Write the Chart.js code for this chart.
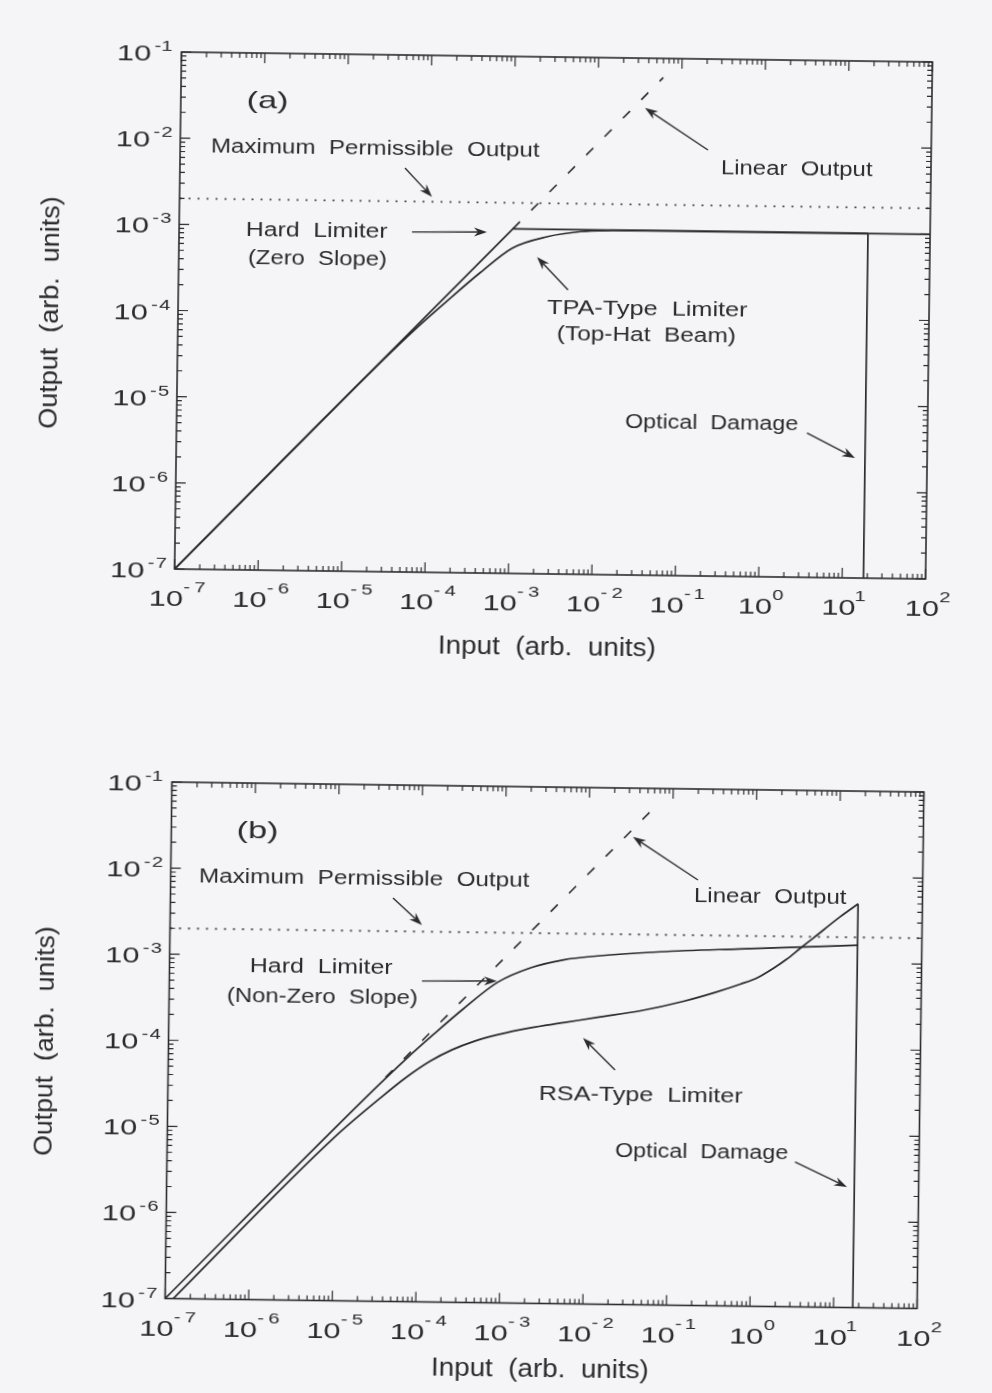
<!DOCTYPE html>
<html>
<head>
<meta charset="utf-8">
<script src="https://cdn.jsdelivr.net/npm/chart.js@4.4.1/dist/chart.umd.min.js"></script>
<style>
html,body{margin:0;padding:0;background:#f5f5f7;width:992px;height:1393px;overflow:hidden}
canvas{position:absolute;left:0}
#chartA{top:0;transform-origin:553.5px 316px;transform:rotate(0.76deg)}
#chartB{top:690px;transform-origin:544px 355px;transform:rotate(0.76deg)}
</style>
</head>
<body>
<canvas id="chartA" width="992" height="690"></canvas>
<canvas id="chartB" width="992" height="703"></canvas>
<script>
// axis decades (exponents) and minor multipliers
const xDecades = [-7,-6,-5,-4,-3,-2,-1,0,1,2];
const yDecades = [-7,-6,-5,-4,-3,-2,-1];
const minorSteps = [2,3,4,5,6,7,8,9];

const maxPermIn = [1e-7, 100];
const maxPermOut = [2e-3, 2e-3];

// panel (a)
const linearA_in  = [1e-3, 0.06];
const linearA_out = [1e-3, 0.06];
const hardA_in  = [1e-7, 1e-3, 100];
const hardA_out = [1e-7, 1e-3, 1e-3];
const tpaA_in  = [1e-7, 3e-5, 7e-5, 1.67e-4, 4.1e-4, 1e-3, 2.6e-3, 6.5e-3, 1.6e-2, 4e-2, 18];
const tpaA_out = [1e-7, 2.95e-5, 6.6e-5, 1.42e-4, 3.05e-4, 6.0e-4, 8.2e-4, 9.5e-4, 9.9e-4, 1e-3, 1e-3];
const damageA_in  = [18, 18];
const damageA_out = [1e-3, 1e-7];

// panel (b)
const linearB_in  = [4e-5, 0.058];
const linearB_out = [4e-5, 0.058];
const hardB_in  = [1e-7, 3e-5, 7e-5, 1.5e-4, 3.3e-4, 8.5e-4, 2.1e-3, 5.2e-3, 1.32e-2, 7.5e-2, 0.66, 17];
const hardB_out = [1e-7, 2.95e-5, 6.6e-5, 1.3e-4, 2.55e-4, 5.3e-4, 7.9e-4, 9.9e-4, 1.11e-3, 1.27e-3, 1.41e-3, 1.62e-3];
const rsaB_in  = [1.25e-7, 1e-5, 3.5e-5, 7e-5, 1.37e-4, 2.5e-4, 4.5e-4, 8.6e-4, 2.1e-3, 5.3e-3, 1.35e-2, 4.4e-2, 0.143, 0.35, 0.685, 1.1, 1.69, 2.4, 3.5, 5.0, 10.5, 17];
const rsaB_out = [1e-7, 7.9e-6, 2.3e-5, 4.0e-5, 6.3e-5, 8.6e-5, 1.08e-4, 1.3e-4, 1.58e-4, 1.84e-4, 2.15e-4, 2.6e-4, 3.4e-4, 4.4e-4, 5.5e-4, 6.6e-4, 8.5e-4, 1.08e-3, 1.46e-3, 1.93e-3, 3.47e-3, 4.9e-3];
const damageB_in  = [17, 17];
const damageB_out = [4.9e-3, 1e-7];

const ink = '#2b2b2b';
const FONT = '"Liberation Sans", Arial, Helvetica, sans-serif';

// text and arrows, positions as seen on the (slightly tilted) page
const notesA = {
  top: 0, cx: 553.5, cy: 316, tilt: 0.76,
  texts: [
    {t:'(a)', x0:248, x1:287, y:108, size:24},
    {t:'Maximum  Permissible  Output', x0:212, x1:540, y:155, size:20},
    {t:'Hard  Limiter', x0:247, x1:388, y:237, size:20},
    {t:'(Zero  Slope)', x0:249, x1:386, y:265, size:20},
    {t:'Linear  Output', x0:722, x1:873, y:175, size:20},
    {t:'TPA-Type  Limiter', x0:547, x1:748, y:315, size:20},
    {t:'(Top-Hat  Beam)', x0:558, x1:735, y:341, size:20},
    {t:'Optical  Damage', x0:625, x1:798, y:429, size:20},
    {t:'Input  (arb.  units)', x0:440, x1:655, y:655, size:26},
    {t:'Output  (arb.  units)', x0:197, x1:428, y:58, size:26, vertical:true}
  ],
  arrows: [[405,168,432,197],[412,232,487,232],[708,150,645,108],[568,290,537,257],[807,433,855,458]]
};
const notesB = {
  top: 690, cx: 544, cy: 1045, tilt: 0.76,
  texts: [
    {t:'(b)', x0:238, x1:277, y:838, size:24},
    {t:'Maximum  Permissible  Output', x0:200, x1:530, y:885, size:20},
    {t:'Hard  Limiter', x0:251, x1:393, y:973, size:20},
    {t:'(Non-Zero  Slope)', x0:228, x1:417, y:1003, size:20},
    {t:'Linear  Output', x0:695, x1:847, y:903, size:20},
    {t:'RSA-Type  Limiter', x0:540, x1:743, y:1101, size:20},
    {t:'Optical  Damage', x0:615, x1:788, y:1158, size:20},
    {t:'Input  (arb.  units)', x0:433, x1:648, y:1377, size:26},
    {t:'Output  (arb.  units)', x0:927, x1:1155, y:53, size:26, vertical:true}
  ],
  arrows: [[393,898,422,925],[422,981,497,981],[698,880,633,837],[615,1070,583,1038],[795,1162,847,1187]]
};

function pts(xs, ys){ return xs.map((x,i)=>({x, y:ys[i]})); }
function series(xs, ys, extra){
  return Object.assign({data:pts(xs,ys), borderColor:ink, borderWidth:1.7, pointRadius:0, fill:false, tension:0}, extra||{});
}
function logTicks(decs){
  const out=[];
  decs.forEach((d,i)=>{
    out.push({value:Math.pow(10,d)});
    if(i<decs.length-1) minorSteps.forEach(m=>out.push({value:Number((m*Math.pow(10,d)).toPrecision(3))}));
  });
  return out;
}
const isDecade = v => Math.abs(Math.log10(v)-Math.round(Math.log10(v)))<1e-6;

function unrot(px, py, n){
  const t=n.tilt*Math.PI/180, c=Math.cos(t), s=Math.sin(t);
  const dx=px-n.cx, dy=py-n.cy;
  return [n.cx+dx*c+dy*s, n.cy-dx*s+dy*c-n.top];
}
function fitText(ctx, str, cx, base, width, size, angle){
  ctx.save();
  ctx.font = size+'px '+FONT;
  ctx.textAlign='left'; ctx.textBaseline='alphabetic';
  const m = ctx.measureText(str);
  const vis = m.actualBoundingBoxLeft + m.actualBoundingBoxRight;
  ctx.translate(cx, base);
  if(angle) ctx.rotate(angle);
  ctx.scale(width/vis, 1);
  ctx.fillText(str, -(m.actualBoundingBoxRight - m.actualBoundingBoxLeft)/2, 0);
  ctx.restore();
}
function scaledText(ctx, str, left, base, size, sx){
  ctx.save();
  ctx.font = size+'px '+FONT;
  ctx.textAlign='left'; ctx.textBaseline='alphabetic';
  const m = ctx.measureText(str);
  ctx.translate(left + m.actualBoundingBoxLeft*sx, base);
  ctx.scale(sx,1);
  ctx.fillText(str,0,0);
  ctx.restore();
}
function arrow(ctx, x0, y0, x1, y1){
  const a=Math.atan2(y1-y0,x1-x0), c=Math.cos(a), s=Math.sin(a), L=13, W=4.5, N=9;
  ctx.beginPath(); ctx.moveTo(x0,y0); ctx.lineTo(x1-c*N, y1-s*N); ctx.stroke();
  ctx.beginPath();
  ctx.moveTo(x1,y1);
  ctx.lineTo(x1-L*c+W*s, y1-L*s-W*c);
  ctx.lineTo(x1-N*c, y1-N*s);
  ctx.lineTo(x1-L*c-W*s, y1-L*s+W*c);
  ctx.closePath(); ctx.fill();
}

const framePlugin = {
  id:'frame',
  afterDatasetsDraw(chart, args, o){
    const {ctx, chartArea:a, scales:{x, y}} = chart;
    ctx.save();
    ctx.strokeStyle=ink; ctx.fillStyle=ink;
    ctx.lineWidth=1.6;
    ctx.strokeRect(a.left, a.top, a.right-a.left, a.bottom-a.top);
    // inward tick marks on all four sides
    ctx.lineWidth=1.2;
    ctx.beginPath();
    x.ticks.forEach(t=>{
      const px=x.getPixelForValue(t.value), len=isDecade(t.value)?10:5;
      ctx.moveTo(px,a.bottom); ctx.lineTo(px,a.bottom-len);
      ctx.moveTo(px,a.top); ctx.lineTo(px,a.top+len);
    });
    y.ticks.forEach(t=>{
      const py=y.getPixelForValue(t.value), len=isDecade(t.value)?10:5;
      ctx.moveTo(a.left,py); ctx.lineTo(a.left+len,py);
      ctx.moveTo(a.right,py); ctx.lineTo(a.right-len,py);
    });
    ctx.stroke();
    // tick labels 10^n
    xDecades.forEach(d=>{
      const px=x.getPixelForValue(Math.pow(10,d));
      if(d<0){
        scaledText(ctx,'10',px-24,a.bottom+37,22,1.4);
        scaledText(ctx,'-',px+9,a.bottom+23,15,1.35);
        scaledText(ctx,String(-d),px+20,a.bottom+23,15,1.35);
      } else {
        scaledText(ctx,'10',px-19,a.bottom+37,22,1.4);
        scaledText(ctx,String(d),px+14,a.bottom+23,15,1.35);
      }
    });
    yDecades.forEach(d=>{
      const py=y.getPixelForValue(Math.pow(10,d));
      scaledText(ctx,'10',a.left-63,py+9,22,1.4);
      scaledText(ctx,'-',a.left-27,py-1,15,1.35);
      scaledText(ctx,String(-d),a.left-19,py-1,15,1.35);
    });
    // annotations
    o.texts.forEach(tx=>{
      if(tx.vertical){
        const p=unrot(tx.y,(tx.x0+tx.x1)/2,o);
        fitText(ctx,tx.t,p[0],p[1],tx.x1-tx.x0,tx.size,-Math.PI/2);
      } else {
        const p=unrot((tx.x0+tx.x1)/2,tx.y,o);
        fitText(ctx,tx.t,p[0],p[1],tx.x1-tx.x0,tx.size,0);
      }
    });
    ctx.lineWidth=1.4;
    o.arrows.forEach(ar=>{
      const p0=unrot(ar[0],ar[1],o), p1=unrot(ar[2],ar[3],o);
      arrow(ctx,p0[0],p0[1],p1[0],p1[1]);
    });
    ctx.restore();
  }
};

function makeChart(id, datasets, pad, notes){
  return new Chart(document.getElementById(id), {
    type:'line',
    data:{datasets},
    options:{
      responsive:false, animation:false, events:[],
      layout:{padding:pad},
      plugins:{legend:{display:false}, tooltip:{enabled:false}, frame:notes},
      scales:{
        x:{type:'logarithmic', min:1e-7, max:100,
           grid:{display:false, drawTicks:false}, border:{display:false}, ticks:{display:false},
           afterBuildTicks:s=>{ s.ticks=logTicks(xDecades); }},
        y:{type:'logarithmic', min:1e-7, max:0.1,
           grid:{display:false, drawTicks:false}, border:{display:false}, ticks:{display:false},
           afterBuildTicks:s=>{ s.ticks=logTicks(yDecades); }}
      }
    },
    plugins:[framePlugin]
  });
}

const dotted = {borderDash:[2,7], borderWidth:1.8, borderColor:'#505050'};
const dashed = {borderDash:[10,16], borderWidth:1.6};
const smooth = {cubicInterpolationMode:'monotone'};

makeChart('chartA', [
  series(maxPermIn, maxPermOut, dotted),
  series(linearA_in, linearA_out, dashed),
  series(hardA_in, hardA_out),
  series(tpaA_in, tpaA_out, smooth),
  series(damageA_in, damageA_out)
], {left:178, right:63, top:57, bottom:116}, notesA);

makeChart('chartB', [
  series(maxPermIn, maxPermOut, dotted),
  series(linearB_in, linearB_out, dashed),
  series(hardB_in, hardB_out, smooth),
  series(rsaB_in, rsaB_out, smooth),
  series(damageB_in, damageB_out)
], {left:168.5, right:71.5, top:97, bottom:89.5}, notesB);
</script>
</body>
</html>
